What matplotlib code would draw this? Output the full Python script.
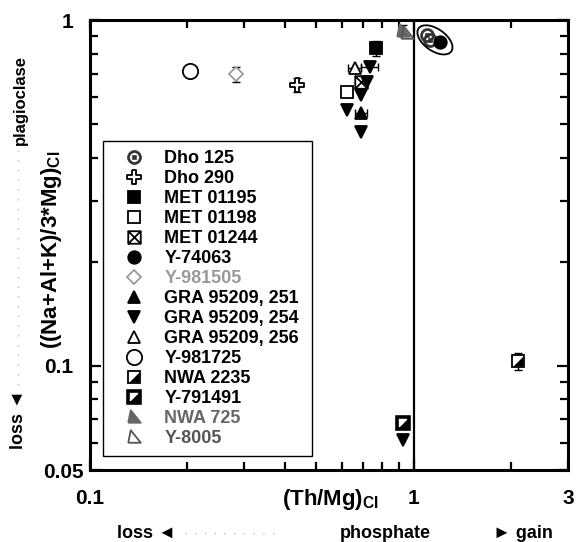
import numpy as np
import matplotlib.pyplot as plt
import matplotlib.transforms as mtransforms
from matplotlib.path import Path
from matplotlib.patches import Ellipse
from matplotlib.lines import Line2D
from matplotlib.legend_handler import HandlerTuple

plt.rcParams['font.family'] = ['Liberation Sans', 'DejaVu Sans']
plt.rcParams['font.weight'] = 'bold'

# (Th/Mg)CI vs ((Na+Al+K)/3*Mg)CI for each meteorite
dho125_x = [1.10, 1.12]
dho125_y = [0.905, 0.878]
dho290_x = [0.435]
dho290_y = [0.649]
dho290_yerr = [0.03]
met01195_x = [0.765]
met01195_y = [0.828]
met01195_yerr = [0.04]
met01198_x = [0.621]
met01198_y = [0.620]
met01244_x = [0.688]
met01244_y = [0.660]
y74063_x = [1.21]
y74063_y = [0.866]
y981505_x = [0.283]
y981505_y = [0.698]
y981505_yerr = [0.035]
gra251_x = [0.69]
gra251_y = [0.537]
gra251_xerr = [0.03]
gra254_x = [0.733, 0.72, 0.69, 0.621, 0.69, 0.925]
gra254_y = [0.733, 0.66, 0.607, 0.550, 0.475, 0.0611]
gra256_x = [0.659]
gra256_y = [0.725]
gra256_xerr = [0.03]
y981725_x = [0.203]
y981725_y = [0.712]
y981725_yerr = [0.02]
nwa2235_x = [2.10]
nwa2235_y = [0.103]
nwa2235_yerr = [0.006]
y791491_x = [0.927]
y791491_y = [0.0684]
nwa725_x = [0.93]
nwa725_y = [0.935]
nwa725_yerr = [0.03]
y8005_x = [0.955]
y8005_y = [0.925]

# marker shapes not in the standard set
a = 0.33
plus_marker = Path([(-a, 1), (a, 1), (a, a), (1, a), (1, -a), (a, -a), (a, -1),
                    (-a, -1), (-a, -a), (-1, -a), (-1, a), (-a, a), (-a, 1)])
boxx_marker = Path([(-1, -1), (1, -1), (1, 1), (-1, 1), (-1, -1), (1, 1), (-1, 1), (1, -1)],
                   [Path.MOVETO, Path.LINETO, Path.LINETO, Path.LINETO, Path.LINETO,
                    Path.LINETO, Path.MOVETO, Path.LINETO])
half_marker = Path([(1, -1), (1, 1), (-1, -1), (1, -1)])
rtri_marker = Path([(-1, -1), (1, -1), (-0.6, 1), (-1, -1)])

fig = plt.figure(figsize=(5.76, 5.42), dpi=100)
ax = fig.add_axes([90 / 576, 72 / 542, 478 / 576, 450 / 542])
ax.set_xscale('log')
ax.set_yscale('log')
ax.set_xlim(0.1, 3)
ax.set_ylim(0.05, 1)

ax.axvline(1, color='black', lw=1.6, zorder=1)

eb = dict(fmt='none', ecolor='black', elinewidth=1, capsize=3, capthick=1, zorder=2)
ax.errorbar(dho290_x, dho290_y, yerr=dho290_yerr, **eb)
ax.errorbar(met01195_x, met01195_y, yerr=met01195_yerr, **eb)
ax.errorbar(y981505_x, y981505_y, yerr=y981505_yerr, **eb)
ax.errorbar(gra251_x, gra251_y, xerr=gra251_xerr, **eb)
ax.errorbar(gra256_x, gra256_y, xerr=gra256_xerr, **eb)
ax.errorbar(gra254_x[:1], gra254_y[:1], xerr=[0.045], **eb)
ax.errorbar(y981725_x, y981725_y, yerr=y981725_yerr, **eb)
ax.errorbar(nwa2235_x, nwa2235_y, yerr=nwa2235_yerr, **eb)
ax.errorbar(nwa725_x, nwa725_y, yerr=nwa725_yerr, **eb)

kw = dict(ls='none', mew=1.3, zorder=3)
h_dho125, = ax.plot(dho125_x, dho125_y, marker=r'$\odot$', ms=10, color='#333333', mew=0.5, ls='none', zorder=3)
h_dho290, = ax.plot(dho290_x, dho290_y, marker=plus_marker, ms=10, mfc='white', mec='black', **kw)
h_met01195, = ax.plot(met01195_x, met01195_y, marker='s', ms=9, mfc='black', mec='black', **kw)
h_met01198, = ax.plot(met01198_x, met01198_y, marker='s', ms=9, mfc='white', mec='black', **kw)
h_met01244, = ax.plot(met01244_x, met01244_y, marker=boxx_marker, ms=9, mfc='none', mec='black', **kw)
h_y74063, = ax.plot(y74063_x, y74063_y, marker='o', ms=9, mfc='black', mec='black', **kw)
h_y981505, = ax.plot(y981505_x, y981505_y, marker='D', ms=7.5, mfc='white', mec='#999999', **kw)
h_gra251, = ax.plot(gra251_x, gra251_y, marker='^', ms=9, mfc='black', mec='black', **kw)
h_gra254, = ax.plot(gra254_x, gra254_y, marker='v', ms=9, mfc='black', mec='black', **kw)
h_gra256, = ax.plot(gra256_x, gra256_y, marker='^', ms=9, mfc='white', mec='black', **kw)
h_y981725, = ax.plot(y981725_x, y981725_y, marker='o', ms=11, mfc='white', mec='black', **kw)
h_nwa2235a, = ax.plot(nwa2235_x, nwa2235_y, marker='s', ms=9, mfc='white', mec='black', **kw)
h_nwa2235b, = ax.plot(nwa2235_x, nwa2235_y, marker=half_marker, ms=7, mfc='black', mec='black', ls='none', mew=0, zorder=4)
h_y791491a, = ax.plot(y791491_x, y791491_y, marker='s', ms=9, mfc='white', mec='black', ls='none', mew=2.6, zorder=3)
h_y791491b, = ax.plot(y791491_x, y791491_y, marker=half_marker, ms=9, mfc='black', mec='black', ls='none', mew=0, zorder=4)
h_nwa725, = ax.plot(nwa725_x, nwa725_y, marker=rtri_marker, ms=9, mfc='#666666', mec='#666666', **kw)
h_y8005, = ax.plot(y8005_x, y8005_y, marker=rtri_marker, ms=9, mfc='none', mec='#555555', **kw)

# ring around the cluster just above (Th/Mg)CI = 1
ring_at = mtransforms.ScaledTranslation(1.164, 0.876, ax.transData)
ax.add_patch(Ellipse((0, 0), 0.40, 0.22, angle=-35, fill=False, ec='black', lw=1.3,
                     transform=fig.dpi_scale_trans + ring_at, zorder=5))

# axes styling
for s in ax.spines.values():
    s.set_linewidth(2.2)
ax.tick_params(which='both', direction='in', top=True, right=True, width=1.6)
ax.tick_params(which='major', length=8)
ax.tick_params(which='minor', length=6)
ax.tick_params(axis='x', which='major', pad=14, labelsize=15)
ax.tick_params(axis='y', which='major', pad=12, labelsize=15)
ax.set_xticks([0.1, 1, 3])
ax.set_xticklabels(['0.1', '1', '3'])
ax.set_yticks([0.05, 0.1, 1])
ax.set_yticklabels(['0.05', '0.1', '1'])
ax.xaxis.set_minor_formatter(plt.NullFormatter())
ax.yaxis.set_minor_formatter(plt.NullFormatter())
shift = mtransforms.ScaledTranslation(0.10, 0, fig.dpi_scale_trans)
lab = ax.get_yticklabels()[0]
lab.set_transform(lab.get_transform() + shift)

labels = ['Dho 125', 'Dho 290', 'MET 01195', 'MET 01198', 'MET 01244', 'Y-74063',
          'Y-981505', 'GRA 95209, 251', 'GRA 95209, 254', 'GRA 95209, 256',
          'Y-981725', 'NWA 2235', 'Y-791491', 'NWA 725', 'Y-8005']
handles = [h_dho125, h_dho290, h_met01195, h_met01198, h_met01244, h_y74063,
           h_y981505, h_gra251, h_gra254, h_gra256, h_y981725,
           (h_nwa2235a, h_nwa2235b), (h_y791491a, h_y791491b), h_nwa725, h_y8005]
leg = ax.legend(handles, labels, loc='upper left', bbox_to_anchor=(0.027, 0.029, 0.437, 0.702),
                mode='expand', fontsize=13, labelspacing=0.165, borderpad=0.5,
                handlelength=2.4, handletextpad=0.5, borderaxespad=0, fancybox=False,
                edgecolor='black', framealpha=1,
                handler_map={tuple: HandlerTuple(ndivide=1)})
leg.get_frame().set_linewidth(1)
grey_labels = {'Y-981505': '#999999', 'NWA 725': '#666666', 'Y-8005': '#555555'}
for t in leg.get_texts():
    t.set_color(grey_labels.get(t.get_text(), 'black'))

# axis titles and direction notes
def fx(px):
    return px / 576

def fy(py):
    return 1 - py / 542

fig.text(fx(330), fy(500), r'(Th/Mg)$_{\mathregular{CI}}$', ha='center', va='center', fontsize=16)
fig.text(fx(52), fy(250), r'((Na+Al+K)/3*Mg)$_{\mathregular{CI}}$', ha='center', va='center',
         rotation=90, fontsize=16)

fig.text(fx(117), fy(533), 'loss ◄', ha='left', va='center', fontsize=13)
fig.text(fx(340), fy(533), 'phosphate', ha='left', va='center', fontsize=13)
fig.text(fx(493), fy(533), '► gain', ha='left', va='center', fontsize=13)
fig.add_artist(Line2D([fx(185), fx(275)], [fy(533), fy(533)], transform=fig.transFigure,
                      ls=(0, (1, 6)), color='#bbbbbb', lw=1))

fig.text(fx(20), fy(100), 'plagioclase', ha='center', va='center', rotation=90, fontsize=12)
fig.text(fx(18), fy(420), 'loss ◄', ha='center', va='center', rotation=90, fontsize=13)
fig.add_artist(Line2D([fx(18), fx(18)], [fy(150), fy(385)], transform=fig.transFigure,
                      ls=(0, (1, 6)), color='#bbbbbb', lw=1))

fig.savefig('out.png', dpi=100)
